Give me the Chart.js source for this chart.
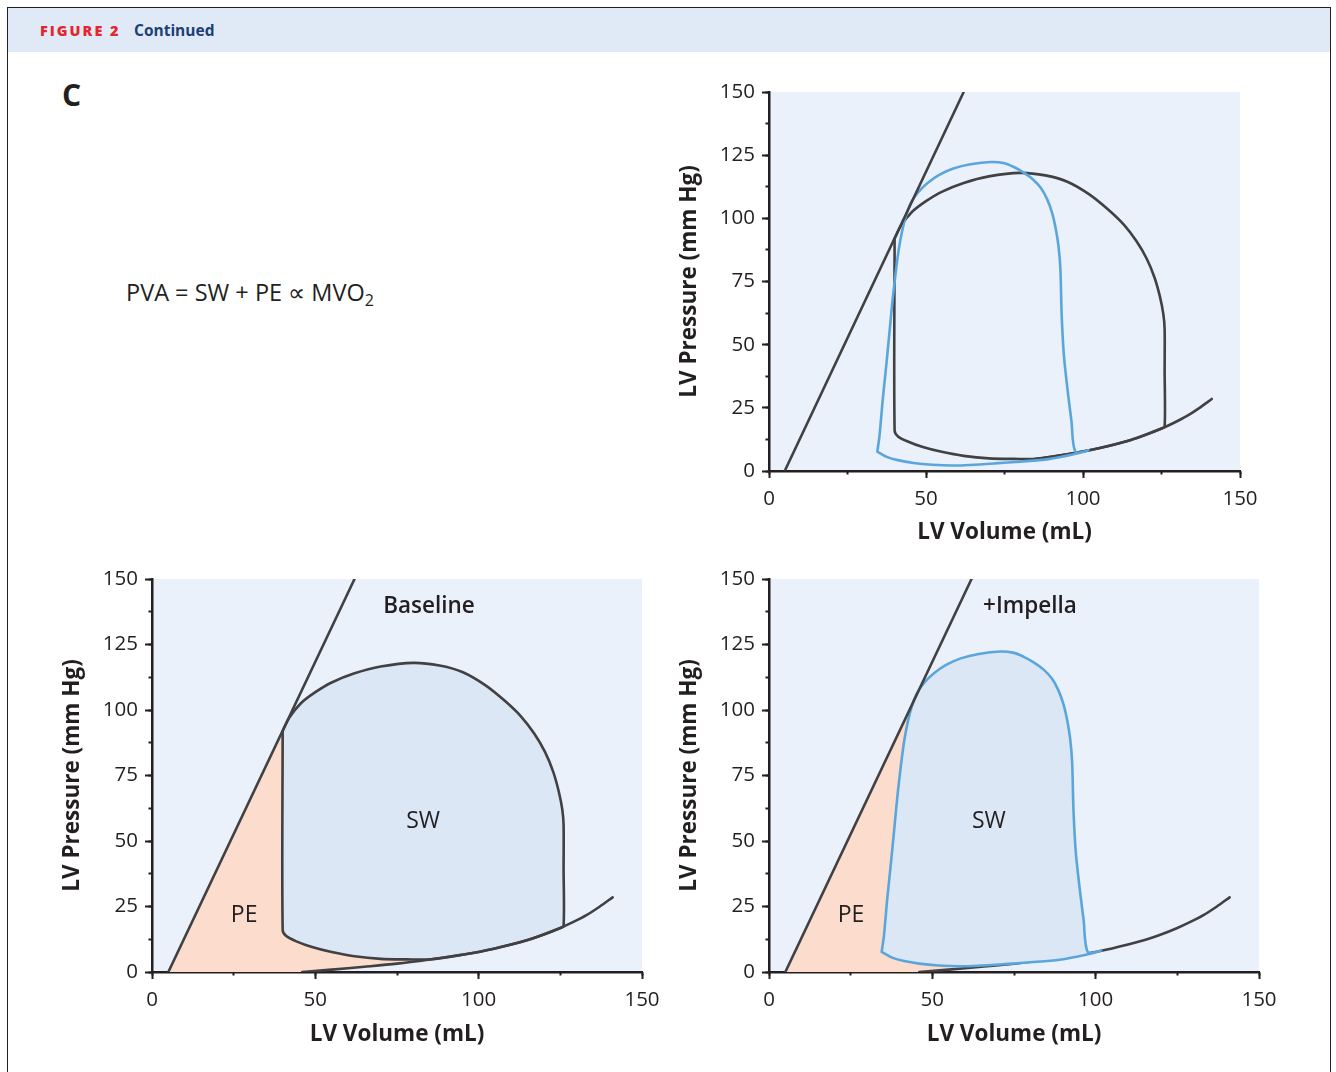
<!DOCTYPE html>
<html>
<head>
<meta charset="utf-8">
<script src="https://cdn.jsdelivr.net/npm/chart.js@4.4.1/dist/chart.umd.min.js"></script>
<style>
  body { margin: 0; background: #fff; font-family: "Open Sans", sans-serif; color: #231f20; }
  #frame { position: absolute; left: 7px; top: 7px; width: 1322px; height: 1100px; border: 1.5px solid #231f20; }
  #band { position: absolute; left: 0; top: 0; right: 0; height: 44px; background: #dfeaf6; }
  #fig { position: absolute; left: 32px; top: 13px; font-size: 14.5px; font-weight: 800; letter-spacing: 2px; color: #e3262f; }
  #cont { position: absolute; left: 126px; top: 11px; font-size: 15.5px; font-weight: 700; color: #1c3f75; }
  #panel { position: absolute; left: 62px; top: 74px; font-size: 30px; font-weight: 700; }
  #formula { position: absolute; left: 126px; top: 276px; font-size: 23.5px; font-weight: 500; white-space: nowrap; }
  #formula sub { font-size: 16px; vertical-align: -5px; line-height: 0; }
  canvas { position: absolute; }
</style>
</head>
<body>
<div id="frame"><div id="band"></div>
  <div id="fig">FIGURE 2</div>
  <div id="cont">Continued</div>
</div>
<div id="panel">C</div>
<div id="formula">PVA = SW + PE ∝ MVO<sub>2</sub></div>

<canvas id="top" width="600" height="480" style="left:667px; top:78px;"></canvas>
<canvas id="base" width="620" height="500" style="left:50px; top:565px;"></canvas>
<canvas id="imp" width="620" height="500" style="left:667px; top:565px;"></canvas>

<script>
// ESPVR (straight line)
var espvrVol = [5, 62];
var espvrP = [0, 150];

// EDPVR
var edpvrVol = [46, 55, 65, 75, 85, 95, 105, 115, 120, 125, 129, 133, 137, 141];
var edpvrP = [0, 0.9, 2.0, 3.2, 4.8, 6.6, 9.0, 12.2, 14.3, 16.8, 19.1, 21.7, 24.9, 28.5];

// baseline PV loop, starts at the point on the ESPVR
var baseVol = [40, 42, 45.5, 50, 55, 62, 70, 80, 88, 95, 102, 108, 113, 117, 120.3, 122.8, 124.5, 125.6, 126, 126, 126,
               125, 115, 105, 95, 85, 78, 70, 62, 55, 49, 44, 41, 40];
var baseP = [92, 97, 102.5, 106.8, 110.5, 114, 116.6, 118, 117, 114.5, 109.5, 103.5, 97.5, 91, 84, 76.5, 69, 62, 56, 40, 17.5,
             16.8, 12.2, 9.0, 6.6, 4.8, 4.8, 5.0, 6.0, 7.6, 9.5, 11.8, 13.8, 16];

// PV loop with Impella, starts at lower left corner
var impVol = [34.5, 35.2, 36.2, 37.2, 38.3, 39.3, 40.3, 41.3, 42.4, 43.7, 45.3, 47.6, 50.5, 54.2, 58.7, 64.2, 70.7, 75, 78,
              81, 84, 86.6, 88.6, 90.2, 91.3, 92.2, 92.8, 93.2, 93.9, 95, 96.3, 97.6, 101.7, 97, 89, 80, 72, 64, 58.5, 52,
              46, 41, 37.5];
var impP = [7.7, 14, 28, 40, 54, 67, 78, 87.5, 95, 101.3, 106.4, 110.5, 114, 117.2, 119.7, 121.4, 122.3, 121.8, 120.3,
            118.2, 115.5, 112, 107.5, 102, 96, 89, 80, 62, 46, 33, 20, 7.6, 8.2, 6.6, 4.7, 3.7, 3.0, 2.4, 2.2, 2.5,
            3.2, 4.3, 5.6];

var yTicks = [0, 25, 50, 75, 100, 125, 150];
var xTicks = [0, 50, 100, 150];

var DARK = '#414042';
var BLUE = '#5aa6dc';
var FONT = '"Open Sans", sans-serif';

function pts(vs, ps) {
    var out = [];
    for (var i = 0; i < vs.length; i++) out.push({x: vs[i], y: ps[i]});
    return out;
}
function closed(vs, ps) {
    var out = pts(vs, ps);
    out.push({x: vs[0], y: ps[0]});
    return out;
}
// PE: between ESPVR, loop and EDPVR (the loop fill is drawn on top of it)
function peRegion(vs, ps, contact, merge) {
    var out = [{x: espvrVol[0], y: espvrP[0]}, {x: vs[contact], y: ps[contact]}];
    for (var i = merge; i >= 0; i--) out.push({x: edpvrVol[i], y: edpvrP[i]});
    return out;
}

function line(data, color, extra) {
    var ds = {data: data, showLine: true, borderColor: color, borderWidth: 2.6, pointRadius: 0,
              fill: false, tension: 0.3, borderJoinStyle: 'round', borderCapStyle: 'round'};
    for (var k in extra) ds[k] = extra[k];
    return ds;
}

var plotBg = {
    id: 'plotBg',
    beforeDraw: function (chart) {
        var a = chart.chartArea, ctx = chart.ctx;
        ctx.save();
        ctx.fillStyle = '#eaf1fa';
        ctx.fillRect(a.left, a.top, a.right - a.left, a.bottom - a.top);
        ctx.restore();
    }
};
function notes(items) {
    return {
        id: 'notes',
        afterDatasetsDraw: function (chart) {
            var ctx = chart.ctx;
            items.forEach(function (n) {
                ctx.save();
                ctx.font = n.font;
                ctx.fillStyle = '#231f20';
                ctx.textAlign = 'center';
                ctx.textBaseline = 'middle';
                ctx.fillText(n.text, chart.scales.x.getPixelForValue(n.v), chart.scales.y.getPixelForValue(n.p));
                ctx.restore();
            });
        }
    };
}

function makeChart(id, datasets, box, items) {
    var axisH = box.h - 14 - box.areaH;
    var tickFont = {family: FONT, size: 20.5, weight: 500};
    var titleFont = {family: FONT, size: 22.5, weight: 'bold'};
    var major = {drawOnChartArea: false, drawTicks: true, tickLength: 7, tickColor: '#231f20', tickWidth: 2};
    var minor = {drawOnChartArea: false, drawTicks: true, tickLength: 3.5, tickColor: '#231f20', tickWidth: 2};
    var border = {display: true, color: '#231f20', width: 2.5};
    function noPad(s) { s.paddingTop = 0; s.paddingBottom = 0; s.paddingLeft = 0; s.paddingRight = 0; }
    return new Chart(document.getElementById(id), {
        type: 'scatter',
        data: {datasets: datasets},
        options: {
            responsive: false,
            animation: false,
            events: [],
            layout: {padding: {left: 0, top: 14, right: box.w - 102 - box.areaW, bottom: 0}},
            plugins: {legend: {display: false}, tooltip: {enabled: false}},
            scales: {
                x: {
                    type: 'linear', min: 0, max: 150, weight: 1,
                    grid: major, border: border,
                    ticks: {stepSize: 50, autoSkip: false, maxRotation: 0, padding: 9, color: '#231f20', font: tickFont,
                            callback: function (v) { return xTicks.indexOf(v) >= 0 ? v : ''; }},
                    title: {display: true, text: 'LV Volume (mL)', color: '#231f20', font: titleFont,
                            padding: {top: 0, bottom: box.titlePad}},
                    afterFit: function (s) { s.height = axisH; noPad(s); }
                },
                xMinor: {
                    type: 'linear', position: 'bottom', min: 0, max: 150, weight: 0,
                    grid: minor, border: {display: false},
                    ticks: {stepSize: 25, display: false},
                    afterFit: function (s) { s.height = 0; noPad(s); }
                },
                y: {
                    type: 'linear', min: 0, max: 150, weight: 1,
                    grid: major, border: border,
                    ticks: {stepSize: 25, autoSkip: false, padding: 7, color: '#231f20', font: tickFont,
                            callback: function (v) { return yTicks.indexOf(v) >= 0 ? v : ''; }},
                    title: {display: true, text: 'LV Pressure (mm Hg)', color: '#231f20', font: titleFont,
                            padding: {top: 9, bottom: 0}},
                    afterFit: function (s) { s.width = 102; noPad(s); }
                },
                yMinor: {
                    type: 'linear', position: 'left', min: 0, max: 150, weight: 0,
                    grid: minor, border: {display: false},
                    ticks: {stepSize: 12.5, display: false},
                    afterFit: function (s) { s.width = 0; noPad(s); }
                }
            }
        },
        plugins: [plotBg, notes(items)]
    });
}

var espvr = pts(espvrVol, espvrP);
var edpvr = pts(edpvrVol, edpvrP);
var baseLoop = closed(baseVol, baseP);
var impLoop = closed(impVol, impP);
var noteFont = '500 23px ' + FONT;
var headFont = '600 22.5px ' + FONT;

// top: both loops overlaid
makeChart('top', [
    line(espvr, DARK, {tension: 0}),
    line(impLoop, BLUE),
    line(baseLoop, DARK),
    line(edpvr.filter(function (d) { return d.x >= 85; }), DARK)
], {w: 600, h: 480, areaW: 471, areaH: 379, titlePad: 12}, []);

// baseline
makeChart('base', [
    line(espvr, DARK, {tension: 0}),
    line(edpvr, DARK),
    line(baseLoop, DARK, {fill: 'shape', backgroundColor: '#dbe7f4'}),
    line(peRegion(baseVol, baseP, 0, 4), 'rgba(0,0,0,0)', {tension: 0, borderWidth: 0, fill: 'shape', backgroundColor: '#fcdccc'})
], {w: 620, h: 500, areaW: 490, areaH: 393, titlePad: 17}, [
    {text: 'Baseline', v: 84.8, p: 139.3, font: headFont},
    {text: 'SW', v: 83, p: 57.5, font: noteFont},
    {text: 'PE', v: 28.2, p: 21.5, font: noteFont}
]);

// with Impella
makeChart('imp', [
    line(espvr, DARK, {tension: 0}),
    line(impLoop, BLUE, {fill: 'shape', backgroundColor: '#dbe7f4'}),
    line(edpvr, DARK),
    line(peRegion(impVol, impP, 9, 1), 'rgba(0,0,0,0)', {tension: 0, borderWidth: 0, fill: 'shape', backgroundColor: '#fcdccc'})
], {w: 620, h: 500, areaW: 490, areaH: 393, titlePad: 17}, [
    {text: '+Impella', v: 79.9, p: 139.3, font: headFont},
    {text: 'SW', v: 67.3, p: 57.5, font: noteFont},
    {text: 'PE', v: 25.1, p: 21.5, font: noteFont}
]);
</script>
</body>
</html>
